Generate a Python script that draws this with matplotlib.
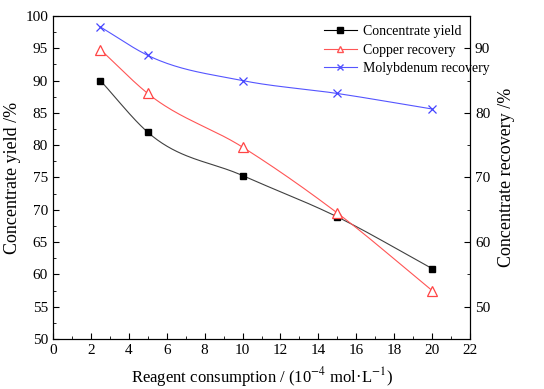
import matplotlib
matplotlib.use("Agg")
import numpy as np
import matplotlib.pyplot as plt
from matplotlib.ticker import MultipleLocator

plt.rcParams["font.family"] = ["Liberation Serif", "DejaVu Serif"]
plt.rcParams["mathtext.fontset"] = "stix"

dosage = [2.5, 5, 10, 15, 20]
conc_yield = [90.0, 82.0, 75.3, 68.9, 60.9]
cu_recovery = [89.8, 83.0, 74.7, 64.5, 52.5]
mo_recovery = [93.3, 88.9, 85.0, 83.0, 80.6]


def smooth(x, y, n=40):
	# cubic hermite curve through the points, like Origin's spline line
	x = np.asarray(x, float)
	y = np.asarray(y, float)
	m = np.gradient(y, x)
	xs, ys = [], []
	t = np.linspace(0, 1, n)
	for i in range(len(x) - 1):
		h = x[i + 1] - x[i]
		h00 = 2 * t ** 3 - 3 * t ** 2 + 1
		h10 = t ** 3 - 2 * t ** 2 + t
		h01 = -2 * t ** 3 + 3 * t ** 2
		h11 = t ** 3 - t ** 2
		xs.extend(x[i] + h * t)
		ys.extend(h00 * y[i] + h10 * h * m[i] + h01 * y[i + 1] + h11 * h * m[i + 1])
	return xs, ys


fig = plt.figure(figsize=(5.44, 3.89), dpi=100)
ax = fig.add_axes([0.0974, 0.1285, 0.7666, 0.8305])
ax2 = ax.twinx()

xs, ys = smooth(dosage, conc_yield)
ax.plot(xs, ys, color="#404040", lw=0.8)
ax.plot(dosage, conc_yield, ls="none", marker="s", ms=5, color="black")

xs, ys = smooth(dosage, cu_recovery)
ax2.plot(xs, ys, color="#ff5555", lw=0.8)
ax2.plot(dosage, cu_recovery, ls="none", marker="^", ms=7, mfc="white", mec="#ff4444", mew=0.9)

xs, ys = smooth(dosage, mo_recovery)
ax2.plot(xs, ys, color="#5555ff", lw=0.8)
ax2.plot(dosage, mo_recovery, ls="none", marker="x", ms=6, color="#4444ff", mew=0.9)

# legend proxies
h1, = ax.plot([], [], color="black", marker="s", ms=4, lw=0.8, label="Concentrate yield")
h2, = ax.plot([], [], color="#ff5555", marker="^", ms=5, mfc="white", lw=0.8, label="Copper recovery")
h3, = ax.plot([], [], color="#5555ff", marker="x", ms=5, lw=0.8, label="Molybdenum recovery")
fig.legend(handles=[h1, h2, h3], loc="upper left", bbox_to_anchor=(0.585, 0.95), frameon=False,
	fontsize=10, handlelength=2.4, handletextpad=0.4, labelspacing=0.4, borderaxespad=0.0)

ax.set_xlim(0, 22)
ax.set_ylim(50, 100)
ax2.set_ylim(45, 95)
ax.xaxis.set_major_locator(MultipleLocator(2))
ax.xaxis.set_minor_locator(MultipleLocator(1))
ax.yaxis.set_major_locator(MultipleLocator(5))
ax.yaxis.set_minor_locator(MultipleLocator(2.5))
ax2.yaxis.set_major_locator(MultipleLocator(10))
ax2.yaxis.set_minor_locator(MultipleLocator(5))

for a in (ax, ax2):
	a.tick_params(which="both", direction="in", labelsize=11)
	a.tick_params(which="major", length=4)
	a.tick_params(which="minor", length=2)
ax.tick_params(top=False, which="both")

ax.set_xlabel("Reagent consumption / (10$^{-4}$ mol·L$^{-1}$)", fontsize=12, labelpad=6)
ax.set_ylabel("Concentrate yield /%", fontsize=13, labelpad=3)
ax2.set_ylabel("Concentrate recovery /%", fontsize=13, labelpad=6)

plt.savefig("out.png", dpi=100)
